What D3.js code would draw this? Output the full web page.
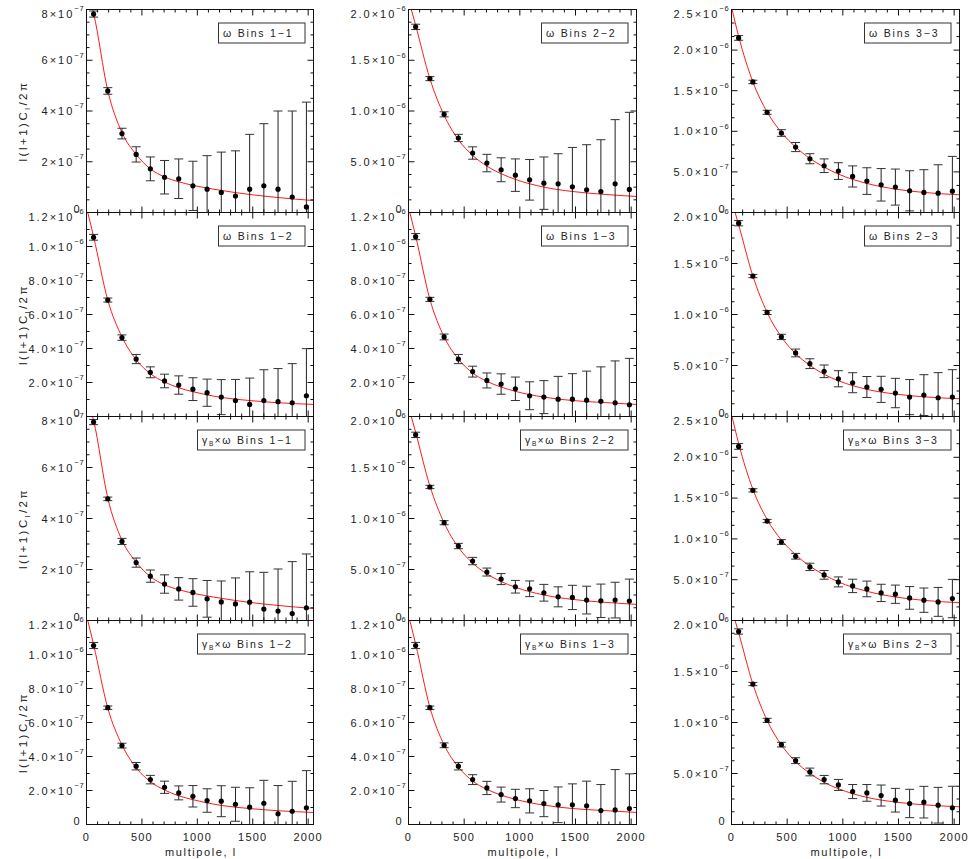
<!DOCTYPE html>
<html>
<head>
<meta charset="utf-8">
<script src="https://cdn.jsdelivr.net/npm/d3@7"></script>
<style>
body { margin: 0; background: #fff; }
text { font-family: "Liberation Sans", Arial, sans-serif; fill: #222; }
</style>
</head>
<body>
<div id="chart"></div>
<script>
// multipole bin centres
const ells = [64,192,320,448,576,704,832,960,1088,1216,1344,1472,1600,1728,1856,1984];
const lMax = 2048;
const xTicks = [0,500,1000,1500,2000];
const xLabels = ["0","500","1000","1500","2000"];

// all values in units of 1e-7
const w11 = [7.82,4.79,3.11,2.29,1.72,1.39,1.33,1.05,0.92,0.79,0.65,0.92,1.05,0.92,0.61,0.22];
const w11e = [0.12,0.13,0.21,0.30,0.47,0.66,0.78,0.97,1.32,1.59,1.78,2.16,2.45,3.08,3.39,4.13];
const w22 = [18.29,13.19,9.67,7.34,5.86,4.87,4.21,3.68,3.22,2.89,2.83,2.53,2.24,2.07,2.83,2.27];
const w22e = [0.26,0.20,0.25,0.36,0.61,0.86,1.18,1.60,2.00,2.58,2.96,3.88,4.44,5.10,6.32,7.60];
const w33 = [21.5,16.08,12.34,9.79,8.06,6.62,5.76,5.10,4.44,3.87,3.41,3.13,2.67,2.47,2.38,2.63];
const w33e = [0.29,0.21,0.25,0.41,0.56,0.62,0.84,1.03,1.30,1.64,2.00,2.22,2.47,2.80,3.50,4.28];
const w12 = [10.54,6.85,4.64,3.38,2.60,2.09,1.85,1.61,1.40,1.14,0.94,0.71,0.94,0.87,0.81,1.22];
const w12e = [0.17,0.12,0.16,0.27,0.32,0.40,0.54,0.67,0.80,1.03,1.24,1.55,1.81,1.95,2.30,2.77];
const w13 = [10.58,6.89,4.68,3.38,2.64,2.12,1.91,1.63,1.22,1.14,1.02,1.02,0.96,0.89,0.81,0.69];
const w13e = [0.18,0.12,0.17,0.27,0.32,0.44,0.60,0.69,0.82,0.97,1.34,1.50,1.71,2.03,2.46,2.73];
const w23 = [18.95,13.77,10.2,7.80,6.23,5.18,4.43,3.70,3.31,2.89,2.66,2.30,1.90,2.10,1.84,1.90];
const w23e = [0.26,0.16,0.20,0.26,0.38,0.48,0.62,0.79,0.98,1.03,1.28,1.44,1.72,2.00,2.46,2.69];
const g11 = [7.78,4.77,3.10,2.27,1.74,1.43,1.24,1.10,0.85,0.73,0.65,0.72,0.45,0.37,0.27,0.50];
const g11e = [0.10,0.07,0.12,0.18,0.24,0.36,0.44,0.54,0.72,0.82,1.02,1.19,1.44,1.65,2.04,2.11];
const g22 = [18.2,13.09,9.59,7.30,5.83,4.75,4.06,3.31,3.11,2.72,2.32,2.26,2.00,1.93,2.00,1.90];
const g22e = [0.26,0.16,0.20,0.26,0.36,0.39,0.54,0.62,0.77,0.82,0.98,1.19,1.36,1.64,1.75,2.16];
const g33 = [21.33,15.95,12.19,9.62,7.87,6.57,5.59,4.73,4.24,3.87,3.38,3.22,2.77,2.49,2.28,2.69];
const g33e = [0.35,0.20,0.20,0.29,0.35,0.45,0.53,0.61,0.82,0.96,1.06,1.12,1.39,1.49,1.77,2.35];
const g12 = [10.53,6.87,4.64,3.43,2.64,2.19,1.86,1.66,1.41,1.37,1.19,1.02,1.25,0.63,0.78,0.98];
const g12e = [0.18,0.10,0.14,0.22,0.25,0.36,0.41,0.63,0.69,0.91,1.00,1.14,1.35,1.66,1.76,2.19];
const g13 = [10.53,6.87,4.66,3.43,2.64,2.15,1.76,1.53,1.39,1.23,1.16,1.16,1.10,0.82,0.86,0.94];
const g13e = [0.18,0.10,0.14,0.22,0.29,0.39,0.44,0.54,0.71,0.77,1.05,1.23,1.45,1.53,2.37,2.04];
const g23 = [18.92,13.77,10.21,7.83,6.26,5.15,4.40,3.88,3.23,3.10,2.84,2.38,2.06,2.19,1.89,1.63];
const g23e = [0.26,0.16,0.20,0.23,0.29,0.38,0.41,0.54,0.69,0.82,1.03,1.16,1.39,1.55,1.75,2.12];

// theory curves (red), read at these multipoles
const thEll = [0,64,192,320,448,576,704,832,960,1216,1472,1728,2048];
const th11 = [8.8,7.85,4.80,3.15,2.29,1.72,1.40,1.21,1.07,0.87,0.71,0.59,0.47];
const th22 = [21.0,18.45,13.19,9.57,7.17,5.63,4.57,3.82,3.26,2.50,2.07,1.81,1.58];
const th33 = [25.3,21.7,16.08,12.38,9.87,8.06,6.66,5.59,4.73,3.58,2.88,2.47,2.18];
const th12 = [12.3,10.58,6.85,4.68,3.34,2.52,2.03,1.69,1.46,1.12,0.94,0.81,0.71];
const th13 = [12.3,10.62,6.89,4.68,3.38,2.56,2.07,1.73,1.48,1.14,0.94,0.83,0.71];
const th23 = [21.2,18.8,13.77,10.2,7.80,6.16,5.02,4.13,3.51,2.66,2.20,1.93,1.74];

// y tick values & labels
const yTicks8 = [0,2,4,6,8];
const yLabels8 = ["0","2×10^−7","4×10^−7","6×10^−7","8×10^−7"];
const yTicks12 = [0,2,4,6,8,10,12];
const yLabels12 = ["0","2.0×10^−7","4.0×10^−7","6.0×10^−7","8.0×10^−7","1.0×10^−6","1.2×10^−6"];
const yTicks20 = [0,5,10,15,20];
const yLabels20 = ["0","5.0×10^−7","1.0×10^−6","1.5×10^−6","2.0×10^−6"];
const yTicks25 = [0,5,10,15,20,25];
const yLabels25 = ["0","5.0×10^−7","1.0×10^−6","1.5×10^−6","2.0×10^−6","2.5×10^−6"];

const scale8 = { max: 8, ticks: yTicks8, labels: yLabels8, minor: 0.5 };
const scale12 = { max: 12, ticks: yTicks12, labels: yLabels12, minor: 1 };
const scale20 = { max: 20, ticks: yTicks20, labels: yLabels20, minor: 1.25 };
const scale25 = { max: 25, ticks: yTicks25, labels: yLabels25, minor: 5/3 };

const panels = [
  { kind: "w", bins: "1−1", v: w11, e: w11e, th: th11, s: scale8 },
  { kind: "w", bins: "2−2", v: w22, e: w22e, th: th22, s: scale20 },
  { kind: "w", bins: "3−3", v: w33, e: w33e, th: th33, s: scale25 },
  { kind: "w", bins: "1−2", v: w12, e: w12e, th: th12, s: scale12 },
  { kind: "w", bins: "1−3", v: w13, e: w13e, th: th13, s: scale12 },
  { kind: "w", bins: "2−3", v: w23, e: w23e, th: th23, s: scale20 },
  { kind: "g", bins: "1−1", v: g11, e: g11e, th: th11, s: scale8 },
  { kind: "g", bins: "2−2", v: g22, e: g22e, th: th22, s: scale20 },
  { kind: "g", bins: "3−3", v: g33, e: g33e, th: th33, s: scale25 },
  { kind: "g", bins: "1−2", v: g12, e: g12e, th: th12, s: scale12 },
  { kind: "g", bins: "1−3", v: g13, e: g13e, th: th13, s: scale12 },
  { kind: "g", bins: "2−3", v: g23, e: g23e, th: th23, s: scale20 }
];

const colLeft = [86.5, 408.5, 731.5];
const colRight = [313.5, 636.5, 959.5];
const rowTop = [9.5, 212.5, 416.5, 620.5, 824.5];

const svg = d3.select("#chart").append("svg")
  .attr("width", 969)
  .attr("height", 859);

const line = d3.line().curve(d3.curveMonotoneX);

panels.forEach((p, i) => {
  let r = Math.floor(i / 3), c = i % 3;
  let x0 = colLeft[c], x1 = colRight[c], y0 = rowTop[r], y1 = rowTop[r + 1];

  let x = d3.scaleLinear().domain([0, lMax]).range([x0, x1]);
  let y = d3.scaleLinear().domain([0, p.s.max]).range([y1, y0]);

  let g = svg.append("g");

  svg.append("clipPath").attr("id", "clip" + i)
    .append("rect")
    .attr("x", x0).attr("y", y0)
    .attr("width", x1 - x0).attr("height", y1 - y0);

  let plot = g.append("g").attr("clip-path", "url(#clip" + i + ")");

  // theory curve
  plot.append("path")
    .attr("d", line(p.th.map((d, k) => [x(thEll[k]), y(d)])))
    .attr("fill", "none")
    .attr("stroke", "#ff1a1a")
    .attr("stroke-width", 1);

  // error bars
  let bars = plot.selectAll(".eb").data(p.v).enter().append("g").attr("class", "eb");
  bars.append("line")
    .attr("x1", (d, k) => x(ells[k])).attr("x2", (d, k) => x(ells[k]))
    .attr("y1", (d, k) => y(d - p.e[k])).attr("y2", (d, k) => y(d + p.e[k]))
    .attr("stroke", "#222");
  [-1, 1].forEach(sgn => {
    bars.append("line")
      .attr("x1", (d, k) => x(ells[k]) - 4.5).attr("x2", (d, k) => x(ells[k]) + 4.5)
      .attr("y1", (d, k) => y(d + sgn * p.e[k])).attr("y2", (d, k) => y(d + sgn * p.e[k]))
      .attr("stroke", "#333");
  });
  plot.selectAll(".dot").data(p.v).enter().append("circle")
    .attr("cx", (d, k) => x(ells[k]))
    .attr("cy", d => y(d))
    .attr("r", 2.6)
    .attr("fill", "#000");

  // frame
  g.append("rect")
    .attr("x", x0).attr("y", y0)
    .attr("width", x1 - x0).attr("height", y1 - y0)
    .attr("fill", "none").attr("stroke", "#111");

  // ticks on all four sides, pointing inward
  let xMinor = d3.range(100, 2001, 100).filter(d => d % 500 !== 0);
  let yMinor = d3.range(0, p.s.max + 1e-6, p.s.minor).filter(d => !p.s.ticks.some(t => Math.abs(t - d) < 1e-6));
  let tickSets = [
    [d3.axisBottom(x), y1, 0, xTicks, xMinor],
    [d3.axisTop(x), y0, 0, xTicks, xMinor],
    [d3.axisLeft(y), 0, x0, p.s.ticks, yMinor],
    [d3.axisRight(y), 0, x1, p.s.ticks, yMinor]
  ];
  tickSets.forEach(([ax, ty, tx, major, minor]) => {
    [[major, 6], [minor, 3]].forEach(([vals, len]) => {
      g.append("g")
        .attr("transform", "translate(" + tx + "," + ty + ")")
        .attr("color", "#111")
        .call(ax.tickValues(vals).tickSize(-len).tickFormat("").offset(0))
        .call(a => a.select(".domain").remove());
    });
  });

  // y tick labels
  p.s.ticks.forEach((t, k) => {
    let parts = p.s.labels[k].split("^");
    let isZero = parts.length === 1;
    let isTop = k === p.s.ticks.length - 1;
    let txt = g.append("text")
      .attr("x", isZero ? x0 - 5 : x0 - 2)
      .attr("y", isZero ? y(t) : y(t) + (isTop ? 8 : 4))
      .attr("text-anchor", "end")
      .attr("font-size", "11px")
      .attr("letter-spacing", "2px");
    txt.append("tspan").text(parts[0]);
    if (!isZero) {
      txt.append("tspan").attr("dy", -6.6).attr("font-size", "7.5px")
        .attr("letter-spacing", "0.8px").text(parts[1]);
    }
  });

  // x tick labels on bottom row
  if (r === 3) {
    xTicks.forEach((t, k) => {
      g.append("text")
        .attr("x", x(t))
        .attr("y", 840.5)
        .attr("text-anchor", "middle")
        .attr("font-size", "11px")
        .attr("letter-spacing", "1.2px")
        .text(xLabels[k]);
    });
    g.append("text")
      .attr("x", (x0 + x1) / 2 + 1)
      .attr("y", 855.5)
      .attr("text-anchor", "middle")
      .attr("font-size", "11px")
      .attr("letter-spacing", "1.6px")
      .text("multipole, l");
  }

  // y axis title on left column
  if (c === 0) {
    let cy = (y0 + y1) / 2 + 10;
    let t = g.append("text")
      .attr("transform", "translate(27," + cy + ") rotate(-90)")
      .attr("text-anchor", "middle")
      .attr("font-size", "11.5px")
      .attr("letter-spacing", "2.5px");
    t.append("tspan").text("l(l+1)C");
    t.append("tspan").attr("dy", 2.5).attr("font-size", "7.5px").text("l");
    t.append("tspan").attr("dy", -2.5).text("/2π");
  }

  // legend box
  let lg = g.append("g");
  let box = lg.append("rect")
    .attr("fill", "#fff").attr("stroke", "#333").attr("stroke-width", 1);
  let lt = lg.append("text")
    .attr("font-size", "10.5px")
    .attr("letter-spacing", "1.8px");
  if (p.kind === "g") {
    lt.append("tspan").text("γ");
    lt.append("tspan").attr("dy", 2).attr("font-size", "6.5px").attr("letter-spacing", "1px").text("B");
    lt.append("tspan").attr("dy", -2).text("×ω Bins " + p.bins);
  } else {
    lt.append("tspan").text("ω Bins " + p.bins);
  }
  let tw = lt.node().getComputedTextLength();
  let bx1 = x1 - 8.5;
  let bx0 = Math.round(bx1 - tw - 17) + 0.5;
  let by0 = y0 + 13.5;
  box.attr("x", bx0).attr("y", by0).attr("width", bx1 - bx0).attr("height", 20);
  lt.attr("x", bx0 + 4.5).attr("y", by0 + 14);
});
</script>
</body>
</html>
